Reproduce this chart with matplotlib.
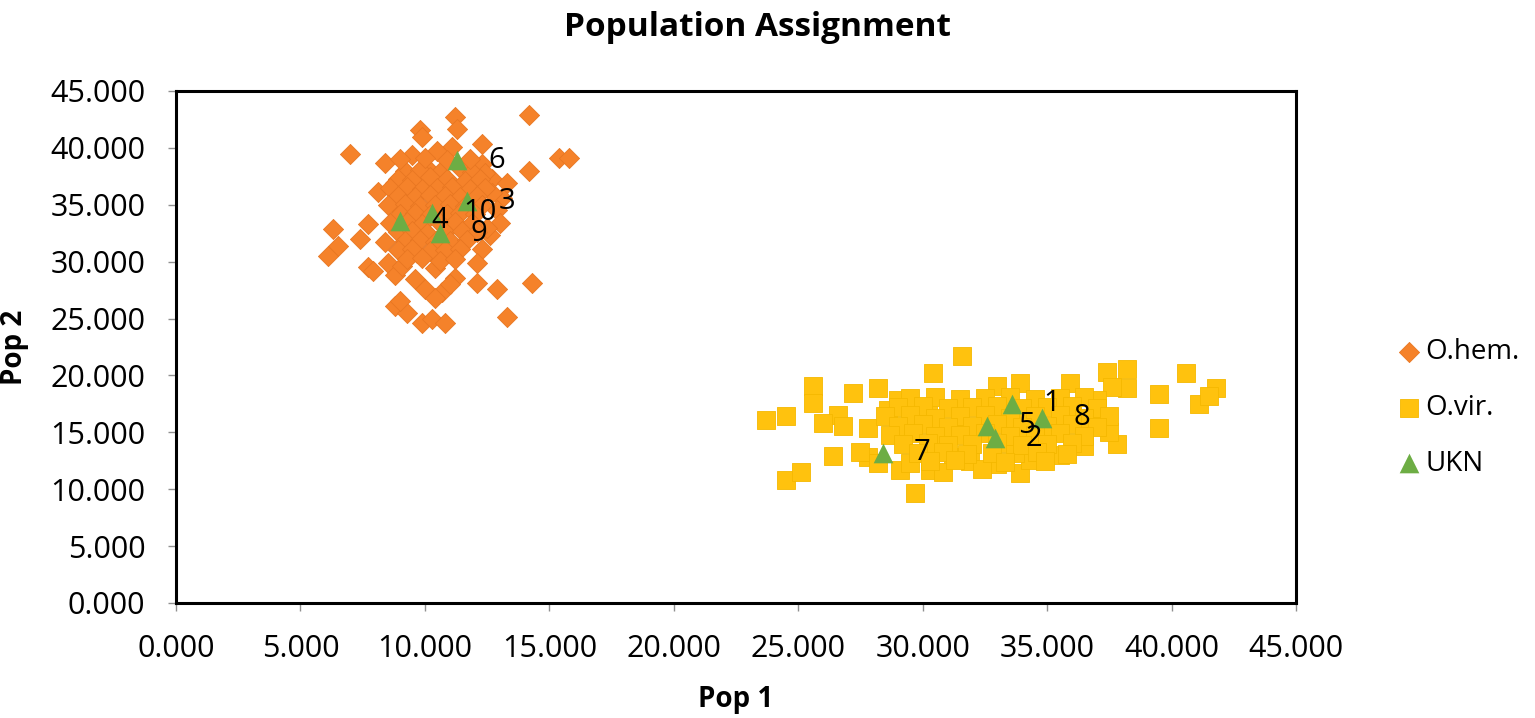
import matplotlib.pyplot as plt

plt.rcParams['font.family'] = ['Open Sans', 'DejaVu Sans']

# O.hem. samples (Pop 1, Pop 2)
ohem_x = [14.2, 11.2, 11.3, 9.8, 9.9, 7.0, 15.4, 15.8, 14.2, 12.3, 11.1, 12.3, 8.4, 9.5, 10.5,
          12.7, 13.3, 13.1, 12.9, 13.0, 8.1, 8.8, 8.9, 6.3, 7.7, 7.4, 6.5, 6.1, 8.4, 7.7,
          8.5, 8.8, 9.1, 9.6, 10.0, 10.4, 8.8, 9.3, 9.9, 10.3, 10.8, 12.3, 12.1, 11.2, 12.1,
          12.9, 14.3, 13.3, 10.7, 8.9, 9.7, 7.9, 9.0, 10.4, 11.0, 12.6, 12.5, 12.7, 12.4, 10.1,
          9.2, 9.8, 10.6, 11.4, 11.9,
          8.9, 9.5, 10.2, 10.9, 11.6, 12.2,
          8.6, 9.3, 9.9, 10.5, 11.1, 11.8, 12.4,
          8.9, 9.6, 10.2, 10.8, 11.4, 12.1,
          8.5, 9.2, 9.8, 10.4, 11.0, 11.6, 12.3,
          9.0, 9.6, 10.2, 10.9, 11.4, 12.0,
          8.6, 9.3, 9.9, 10.6, 11.2, 11.9,
          8.9, 9.5, 10.1, 10.8, 11.5, 12.1,
          9.2, 9.8, 10.4, 11.0, 11.7,
          8.9, 9.5, 10.2, 10.8, 11.4,
          9.3, 9.9, 10.6, 11.2,
          9.0, 10.0, 10.9, 11.8]
ohem_y = [42.9, 42.7, 41.7, 41.6, 41.0, 39.5, 39.1, 39.1, 38.0, 40.3, 40.1, 38.6, 38.7, 39.4, 39.7,
          37.3, 36.9, 35.6, 34.5, 33.4, 36.1, 36.9, 34.7, 32.9, 33.3, 32.0, 31.4, 30.5, 31.7, 29.5,
          29.9, 28.8, 29.6, 28.5, 27.6, 29.4, 26.1, 25.5, 24.6, 25.0, 24.6, 31.1, 29.9, 28.6, 28.1,
          27.6, 28.1, 25.1, 27.3, 32.9, 30.8, 29.2, 26.5, 26.8, 28.0, 32.3, 33.0, 36.0, 37.8, 38.2,
          38.0, 38.1, 37.9, 38.2, 37.9,
          37.3, 37.2, 37.4, 37.3, 37.1, 37.3,
          36.5, 36.6, 36.4, 36.5, 36.6, 36.4, 36.5,
          35.8, 35.7, 35.9, 35.8, 35.7, 35.8,
          35.0, 35.1, 34.9, 35.0, 35.1, 34.9, 35.0,
          34.2, 34.3, 34.1, 34.2, 34.3, 34.2,
          33.4, 33.5, 33.3, 33.4, 33.5, 33.4,
          32.6, 32.7, 32.5, 32.6, 32.7, 32.6,
          31.8, 31.9, 31.7, 31.8, 31.9,
          31.0, 31.1, 30.9, 31.0, 31.1,
          30.2, 30.3, 30.1, 30.2,
          39.0, 39.1, 38.9, 39.0]

# O.vir. samples
ovir_x = [23.7, 24.5, 25.6, 25.6, 26.6, 26.8, 27.2, 28.2, 30.4, 31.6, 26.4, 24.5, 25.1, 29.7, 27.8,
          27.8, 29.0, 30.2, 30.3, 29.1, 31.4, 31.2, 33.0, 33.9, 35.9, 37.4, 38.2, 38.2, 39.5, 40.6,
          41.1, 41.8, 41.5, 39.5, 37.8, 33.9, 31.9, 26.0, 28.6, 27.5, 28.2, 29.5, 30.8, 37.6, 37.0,
          36.8, 37.5, 36.5, 35.5, 34.3, 33.0, 32.4, 33.7,
          29.5, 30.5, 31.5, 32.5, 33.5, 34.5, 35.5, 36.5,
          29.0, 30.0, 31.0, 32.0, 33.0, 34.0, 35.0, 36.0, 37.0,
          28.5, 29.5, 30.5, 31.5, 32.5, 33.5, 34.5, 35.5, 36.5, 37.5,
          29.0, 30.0, 31.0, 32.0, 33.0, 34.0, 35.0, 36.0, 37.0,
          28.7, 29.6, 30.5, 31.5, 32.5, 33.5, 34.5, 35.5, 36.5,
          29.2, 30.2, 31.0, 32.0, 33.0, 34.0, 35.0, 36.0,
          29.8, 30.8, 31.8, 32.8, 34.6, 35.8,
          30.3, 31.3, 33.3, 34.9]
ovir_y = [16.1, 16.4, 19.1, 17.6, 16.5, 15.6, 18.5, 18.9, 20.2, 21.7, 12.9, 10.8, 11.5, 9.7, 12.8,
          15.4, 17.8, 16.9, 11.7, 11.7, 15.2, 12.8, 19.1, 19.3, 19.3, 20.3, 20.6, 18.9, 18.4, 20.2,
          17.5, 18.9, 18.2, 15.4, 14.0, 11.4, 12.5, 15.8, 17.0, 13.3, 12.3, 12.3, 11.5, 19.0, 17.8,
          16.2, 15.0, 13.8, 13.0, 12.6, 12.2, 11.8, 13.2,
          18.0, 18.1, 17.9, 18.0, 18.1, 17.9, 18.0, 18.1,
          17.2, 17.3, 17.1, 17.2, 17.3, 17.1, 17.2, 17.3, 17.1,
          16.4, 16.5, 16.3, 16.4, 16.5, 16.3, 16.4, 16.5, 16.3, 16.4,
          15.6, 15.7, 15.5, 15.6, 15.7, 15.5, 15.6, 15.7, 15.5,
          14.8, 14.9, 14.7, 14.8, 14.9, 14.7, 14.8, 14.9, 14.7,
          14.0, 14.1, 13.9, 14.0, 14.1, 13.9, 14.0, 14.1,
          13.2, 13.3, 13.1, 13.2, 13.3, 13.1,
          12.5, 12.6, 12.4, 12.5]

# unknown samples and their ids
ukn_id = ['1', '2', '3', '4', '5', '6', '7', '8', '9', '10']
ukn_x = [33.6, 32.9, 11.7, 9.0, 32.6, 11.3, 28.4, 34.8, 10.6, 10.3]
ukn_y = [17.5, 14.5, 35.3, 33.6, 15.6, 38.9, 13.2, 16.3, 32.5, 34.3]

orange = '#F5822A'
yellow = '#FFC20E'
green = '#6DAD44'

fig = plt.figure(figsize=(15.35, 7.18), dpi=100)
ax = fig.add_axes([176 / 1535, 115 / 718, 1120 / 1535, 512 / 718])

ax.scatter(ohem_x, ohem_y, marker='D', s=105, color=orange, edgecolors='#E87722',
           linewidths=0.6, label='O.hem.', zorder=2)
ax.scatter(ovir_x, ovir_y, marker='s', s=185, color=yellow, edgecolors='#F5B800',
           linewidths=0.6, label='O.vir.', zorder=2)
ax.scatter(ukn_x, ukn_y, marker='^', s=200, color=green, linewidths=0,
           label='UKN', zorder=3)

for lab, x, y in zip(ukn_id, ukn_x, ukn_y):
    ax.annotate(lab, (x, y), xytext=(31, 0), textcoords='offset pixels',
                ha='left', va='center', fontsize=21, color='black', zorder=4)

ax.set_xlim(0, 45)
ax.set_ylim(0, 45)
ticks = [0, 5, 10, 15, 20, 25, 30, 35, 40, 45]
ax.set_xticks(ticks)
ax.set_yticks(ticks)
ax.set_xticklabels(['%.3f' % t for t in ticks])
ax.set_yticklabels(['%.3f' % t for t in ticks])
ax.tick_params(axis='both', labelsize=22, length=6, width=1, color='#909090',
               pad=16, direction='out')

for sp in ax.spines.values():
    sp.set_linewidth(2.2)
    sp.set_color('black')

fig.text(757 / 1535, 1 - 27 / 718, 'Population Assignment', ha='center', va='center',
         fontsize=24, fontweight='bold')
fig.text(736 / 1535, 1 - 700 / 718, 'Pop 1', ha='center', va='center',
         fontsize=20, fontweight='bold')
fig.text(15 / 1535, 1 - 347 / 718, 'Pop 2', ha='center', va='center',
         fontsize=20, fontweight='bold', rotation=90)

fig.legend(loc='center left', bbox_to_anchor=(1395 / 1535, 1 - 408 / 718),
           frameon=False, fontsize=20, handletextpad=0.1, labelspacing=1.0,
           handlelength=1.0, borderpad=0, borderaxespad=0, scatterpoints=1)

fig.savefig('out.png', dpi=100)
